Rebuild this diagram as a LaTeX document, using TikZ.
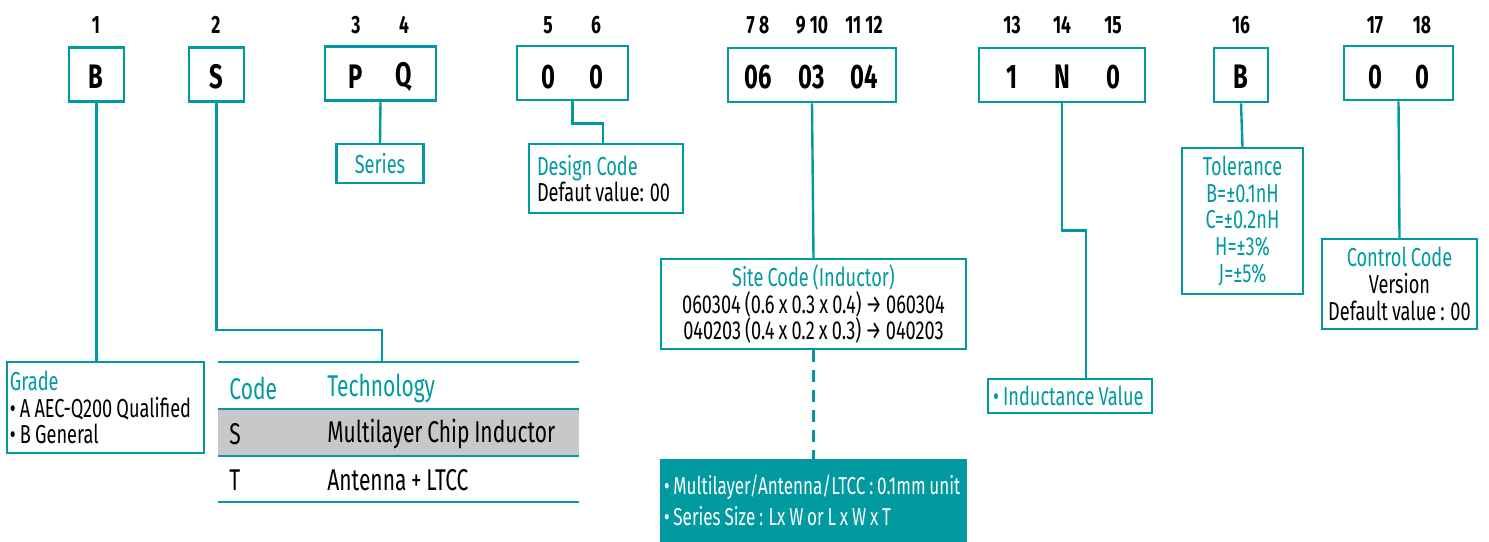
\documentclass[tikz,border=0pt]{standalone}
\usepackage{fontspec}
\setmainfont{Fira Sans}[FakeStretch=0.7, WordSpace=0.85]
\usetikzlibrary{positioning, calc}
\definecolor{pnteal}{RGB}{0, 154, 160}
\definecolor{rowgray}{RGB}{200, 200, 202}

\begin{document}
\begin{tikzpicture}[
    x=0.5pt, y=-0.5pt,
    codebox/.style={draw=pnteal, line width=1.3pt, minimum height=27pt,
                    inner sep=0pt},
    digit/.style={font=\fontsize{12.5}{13}\selectfont\bfseries},
    chr/.style={font=\fontsize{17}{18}\selectfont\bfseries},
    lblbox/.style={draw=pnteal, line width=1.2pt, inner sep=0pt,
                   align=center, font=\fontsize{13}{13.3}\selectfont,
                   execute at begin node={\spaceskip=0pt\xspaceskip=0pt\relax}},
    link/.style={draw=pnteal, line width=1.2pt},
    cell/.style={anchor=west, inner sep=0pt,
                 font=\fontsize{15}{16}\selectfont},
]
\useasboundingbox (0,0) rectangle (1489,541);

% -- Code boxes --
\node[codebox, minimum width=27.5pt] (bB) at (96.5,74.5) {};
\node[codebox, minimum width=27.5pt] (bS) at (216.5,74.5) {};
\node[codebox, minimum width=55.5pt] (bPQ) at (380.5,73.5) {};
\node[codebox, minimum width=55.5pt] (bDC) at (572.5,73) {};
\node[codebox, minimum width=84pt] (bSize) at (812,75) {};
\node[codebox, minimum width=83pt] (bInd) at (1062,75) {};
\node[codebox, minimum width=27pt] (bTol) at (1241,75) {};
\node[codebox, minimum width=54.5pt] (bCtl) at (1398.5,73) {};

% -- Positions and characters --
\foreach \x/\n/\c [count=\i] in {96/1/B, 216/2/S, 356/3/P, 404/4/Q,
    548/5/0, 596/6/0, 758/7\,8/06, 812/9\,10/03, 864/11\,12/04,
    1012/13/1, 1062/14/N, 1113/15/0, 1241/16/B, 1375/17/0, 1422/18/0}
{
    \node[digit] (n\i) at (\x,25) {\n};
    \node[chr] (c\i) at (\x,77) {\c};
}

% -- Label boxes --
\node[lblbox, text=pnteal, minimum width=43.5pt,
      minimum height=19.5pt] (series) at (380,163.5) {Series};
\node[lblbox, align=left, text width=69pt, inner xsep=4pt,
      minimum height=34.5pt] (design) at (606,178.5)
    {\textcolor{pnteal}{Design Code}\\Defaut value: 00};
\node[lblbox, minimum width=152.5pt, minimum height=45pt] (site)
    at (813.5,304)
    {\textcolor{pnteal}{Site Code (Inductor)}\\
     060304 (0.6 x 0.3 x 0.4) → 060304\\
     040203 (0.4 x 0.2 x 0.3) → 040203};
\node[lblbox, fill=pnteal, text=white, align=left, text width=149.5pt,
      inner xsep=1.5pt, minimum height=40.5pt,
      font=\fontsize{12.2}{15.5}\selectfont] (note) at (813.5,500.5)
    {• Multilayer/Antenna/LTCC : 0.1mm unit\\
     • Series Size : Lx W or L x W x T};
\node[lblbox, text=pnteal, align=left, text width=77pt, inner xsep=2.5pt,
      minimum height=17pt] (ind) at (1070,396) {• Inductance Value};
\node[lblbox, text=pnteal, minimum width=60.5pt, minimum height=73pt]
    (tol) at (1242.5,221)
    {Tolerance\\B=±0.1nH\\C=±0.2nH\\H=±3\%\\J=±5\%};
\node[lblbox, minimum width=77.5pt, minimum height=45pt] (ctl)
    at (1399.5,284)
    {\textcolor{pnteal}{Control Code}\\Version\\Default value : 00};
\node[lblbox, align=left, text width=95.5pt, inner xsep=1.5pt,
      minimum height=45.5pt] (grade) at (105.5,407.5)
    {\textcolor{pnteal}{Grade}\\• A AEC-Q200 Qualified\\• B General};

% -- Technology table --
\fill[rowgray] (218,409) rectangle (579,456);
\foreach \y in {362, 409, 456, 502}
    \draw[link] (218,\y) -- (579,\y);
\coordinate (tabTop) at (382,362);
\node[cell, text=pnteal] (tCode) at (229,388) {Code};
\node[cell, text=pnteal] (tTech) at (327,388) {Technology};
\node[cell] (tS) at (229,434) {S};
\node[cell] (tSdesc) at (327,434) {Multilayer Chip Inductor};
\node[cell] (tT) at (229,480) {T};
\node[cell] (tTdesc) at (327,480) {Antenna + LTCC};

% -- Connectors --
\draw[link] (bB.south) -- (bB.south |- grade.north);
\draw[link] (bS.south) -- ++(0,227) -| (tabTop);
\draw[link] (bPQ.south) -- (series.north);
\draw[link] (bDC.south) -- ++(0,22) -| ([xshift=-1.5pt]design.north);
\draw[link] (bSize.south) -- (site.north);
\draw[link, dash pattern=on 6pt off 4pt] (site.south) -- (note.north);
\draw[link] (bInd.south) -- ++(0,127) -| ([xshift=8pt]ind.north);
\draw[link] (bTol.south) -- (tol.north);
\draw[link] (bCtl.south) -- (ctl.north);

\end{tikzpicture}
\end{document}
